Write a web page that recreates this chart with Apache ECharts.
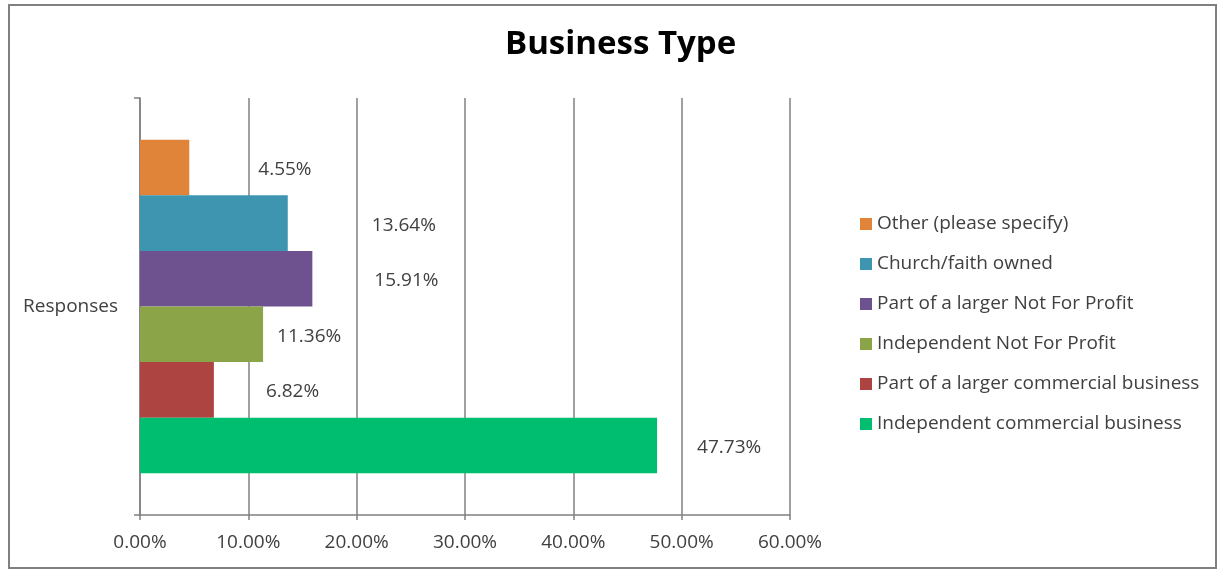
<!DOCTYPE html>
<html>
<head>
<meta charset="utf-8">
<script src="https://cdn.jsdelivr.net/npm/echarts@6/dist/echarts.min.js"></script>
<style>
html, body { margin:0; padding:0; background:#fff; }
#chart { width:1219px; height:571px; }
</style>
</head>
<body>
<div id="chart"></div>
<script>
// data
var categories = ['Responses'];
var seriesNames = [
	'Other (please specify)',
	'Church/faith owned',
	'Part of a larger Not For Profit',
	'Independent Not For Profit',
	'Part of a larger commercial business',
	'Independent commercial business'
];
var seriesValues = [4.55, 13.64, 15.91, 11.36, 6.82, 47.73];
var xTicks = [0, 10, 20, 30, 40, 50, 60];

// styles
var colors = ['#E0843A', '#3D95B0', '#6E5290', '#8BA448', '#AE4442', '#00BE6F'];
var labelGap = [69, 84, 62, 14, 52, 40];	// Excel put the labels at odd places
var font = 'Open Sans';

var dom = document.getElementById('chart');
var myChart = echarts.init(dom);

var series = [];
for (var i = 0; i < seriesNames.length; i++) {
	series.push({
		name: seriesNames[i],
		type: 'bar',
		barGap: 0,
		barCategoryGap: '20%',
		itemStyle: { color: colors[i] },
		label: {
			show: true,
			position: 'right',
			distance: labelGap[i],
			offset: [0, 2],
			color: '#404040',
			fontFamily: font,
			fontSize: 19,
			formatter: function (p) { return p.value.toFixed(2) + '%'; }
		},
		data: [seriesValues[i]]
	});
}

var option = {
	animation: false,
	title: {
		text: 'Business Type',
		left: 505,
		top: 28,
		padding: 0,
		textStyle: { fontFamily: font, fontWeight: 'bold', fontSize: 33, color: '#000' }
	},
	legend: {
		orient: 'vertical',
		left: 855,
		top: 208,
		icon: 'rect',
		itemWidth: 12,
		itemHeight: 12,
		itemGap: 18,
		textStyle: { fontFamily: font, fontSize: 19, color: '#404040', lineHeight: 22 },
		data: seriesNames
	},
	grid: { left: 140, right: 429, top: 98, bottom: 56, outerBoundsMode: 'none' },
	xAxis: {
		type: 'value',
		min: xTicks[0],
		max: xTicks[xTicks.length - 1],
		interval: 10,
		axisLine: { show: true, lineStyle: { color: '#808080', width: 1.5 } },
		axisTick: { show: true, length: 5, lineStyle: { color: '#808080', width: 1.5 } },
		splitLine: { show: true, lineStyle: { color: '#808080', width: 1.5 } },
		axisLabel: {
			margin: 18,
			color: '#404040',
			fontFamily: font,
			fontSize: 19,
			formatter: function (v) { return v.toFixed(2) + '%'; }
		}
	},
	yAxis: {
		type: 'category',
		data: categories,
		axisLine: { show: true, lineStyle: { color: '#808080', width: 1.5 } },
		axisTick: { show: true, length: 6, lineStyle: { color: '#808080', width: 1.5 } },
		axisLabel: { margin: 22, color: '#404040', fontFamily: font, fontSize: 19 }
	},
	graphic: [{
		type: 'rect',
		shape: { x: 9, y: 5, width: 1207, height: 563 },
		style: { fill: 'none', stroke: '#808080', lineWidth: 2 },
		silent: true
	}],
	series: series
};

myChart.setOption(option, true);
</script>
</body>
</html>
